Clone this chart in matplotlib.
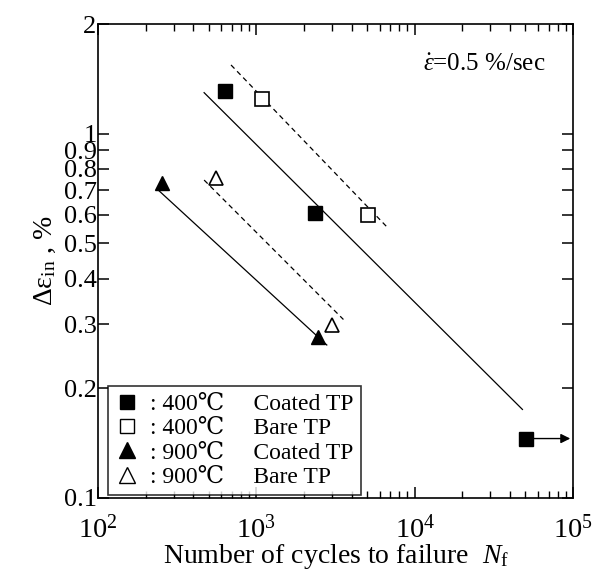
import matplotlib
matplotlib.use('Agg')
import matplotlib.pyplot as plt
from matplotlib.lines import Line2D

plt.rcParams['font.family'] = ['Liberation Serif', 'DejaVu Serif']
plt.rcParams['mathtext.fontset'] = 'custom'
plt.rcParams['mathtext.rm'] = 'Liberation Serif'
plt.rcParams['mathtext.it'] = 'Liberation Serif:italic'

### Data

# 400 C, coated
nf_400c = [634, 2350]
de_400c = [1.31, 0.607]
# run-out specimen (did not fail)
nf_runout = [50600]
de_runout = [0.1456]
runout_end = 96000
# 400 C, bare
nf_400b = [1082, 5105]
de_400b = [1.248, 0.598]
# 900 C, coated
nf_900c = [252, 2466]
de_900c = [0.731, 0.276]
# 900 C, bare
nf_900b = [556, 3020]
de_900b = [0.757, 0.2985]

# fitted lines (end points)
fit_400c = ([468, 47900], [1.296, 0.175])
fit_400b = ([692, 6670], [1.544, 0.555])
fit_900c = ([237, 2786], [0.704, 0.263])
fit_900b = ([468, 3548], [0.746, 0.309])

y_ticks = [0.1, 0.2, 0.3, 0.4, 0.5, 0.6, 0.7, 0.8, 0.9, 1, 2]
y_ticklabels = ['0.1', '0.2', '0.3', '0.4', '0.5', '0.6', '0.7', '0.8', '0.9', '1', '2']

legend_labels = [': 400\u2103     Coated TP',
                 ': 400\u2103     Bare TP',
                 ': 900\u2103     Coated TP',
                 ': 900\u2103     Bare TP']

### Plot

fig = plt.figure(figsize=(5.92, 5.72), dpi=100)
ax = fig.add_axes([0.1655, 0.1294, 0.8025, 0.8286])

ms = 10
ax.plot(*fit_400c, '-', color='black', lw=0.9)
ax.plot(*fit_400b, '--', color='black', lw=0.9, dashes=(4, 3))
ax.plot(*fit_900c, '-', color='black', lw=0.9)
ax.plot(*fit_900b, '--', color='black', lw=0.9, dashes=(4, 3))

ax.plot(nf_400c, de_400c, 's', color='black', ms=ms, ls='none')
ax.plot(nf_runout, de_runout, 's', color='black', ms=ms, ls='none')
ax.plot(nf_400b, de_400b, 's', mfc='white', mec='black', mew=1.2, ms=ms, ls='none')
ax.plot(nf_900c, de_900c, '^', color='black', ms=ms, ls='none')
ax.plot(nf_900b, de_900b, '^', mfc='white', mec='black', mew=1.2, ms=ms, ls='none')

ax.annotate('', xy=(runout_end, de_runout[0]), xytext=(nf_runout[0], de_runout[0]),
            arrowprops=dict(arrowstyle='-|>', color='black', lw=1, mutation_scale=14,
                            shrinkA=4, shrinkB=0))

ax.set_xscale('log')
ax.set_yscale('log')
ax.set_xlim(100, 1e5)
ax.set_ylim(0.1, 2)
ax.set_yticks(y_ticks)
ax.set_yticklabels(y_ticklabels)
ax.yaxis.set_minor_locator(matplotlib.ticker.NullLocator())

ax.tick_params(which='both', direction='in', top=True, right=True)
ax.tick_params(which='major', length=8, width=1.1)
ax.tick_params(which='minor', length=5, width=1.0)
ax.tick_params(axis='x', which='major', pad=12, labelsize=20.5)
ax.tick_params(axis='y', which='major', pad=1, labelsize=19)
for s in ax.spines.values():
    s.set_linewidth(1.2)

ax.set_xlabel('Number of cycles to failure  $N_\\mathrm{f}$', fontsize=20, labelpad=-1)
ax.set_ylabel('\u0394\u03b5$_\\mathrm{in}$ , %', fontsize=20, labelpad=4)

ax.text(0.941, 0.913, '$\\dot{\\varepsilon}$=0.5 %/sec', transform=ax.transAxes,
        ha='right', va='center', fontsize=18)

handles = [
    Line2D([], [], marker='s', color='black', ls='none', ms=ms),
    Line2D([], [], marker='s', mfc='white', mec='black', mew=1.0, ls='none', ms=ms),
    Line2D([], [], marker='^', color='black', ls='none', ms=ms + 1),
    Line2D([], [], marker='^', mfc='white', mec='black', mew=1.0, ls='none', ms=ms + 1),
]
leg = ax.legend(handles, legend_labels, loc='lower left', bbox_to_anchor=(0.021, 0.006),
                borderaxespad=0, fontsize=17, frameon=True, fancybox=False,
                edgecolor='black', handlelength=1.0, handletextpad=0.5,
                labelspacing=0.12, borderpad=0.3)
leg.get_frame().set_linewidth(1.2)

fig.savefig('out.png', dpi=100)
